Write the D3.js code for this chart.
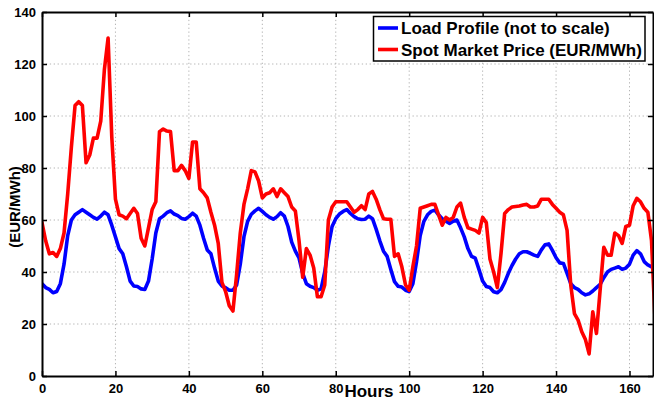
<!DOCTYPE html>
<html>
<head>
<meta charset="utf-8">
<script src="https://cdn.jsdelivr.net/npm/d3@7"></script>
<style>
  html, body { margin: 0; padding: 0; background: #fff; }
  svg { display: block; }
  text { font-family: "Liberation Sans", Arial, Helvetica, sans-serif; font-weight: bold; }
</style>
</head>
<body>
<svg id="chart" width="654" height="400"></svg>
<script>
// Hourly values over one week (hour 0 .. 167)
const spotPrice = [
  59, 52, 47, 47.5, 46, 49, 55, 70, 88, 104,
  105.5, 104, 82, 85, 91.5, 91.5, 98, 118, 130, 92,
  68, 62, 61.5, 60.5, 62.5, 64.5, 62.5, 53, 50, 57,
  64, 67, 94, 95, 94.2, 94, 79, 79, 81, 79,
  76, 90, 90, 72, 70.5, 68.5, 63, 58, 51, 36,
  32.5, 27, 25, 39, 55, 66, 72, 79, 78.5, 75,
  68.5, 70, 70.5, 72, 69, 72, 70.5, 69, 65, 63.5,
  52, 38, 49, 46.5, 41.5, 30.5, 30.5, 35, 60, 65,
  67, 67, 67, 67, 65, 63, 64, 65.5, 64, 70,
  71, 68, 64, 60.5, 60.3, 60.3, 46, 47, 42, 35,
  33, 42, 50, 64.5, 65, 65.5, 66, 66, 62, 58,
  61, 60, 61, 65, 66.5, 61, 57, 56.5, 56, 55,
  61, 59, 45, 40, 34, 47, 62.5, 64, 65, 65.2,
  65.4, 65.8, 66, 65, 65, 65.4, 68, 68, 68, 66,
  64.5, 63, 62, 56, 35, 24, 21.5, 17, 14, 8.5,
  24.7, 16.4, 33, 49.5, 46.5, 46.5, 55, 54, 51, 57.5,
  58, 65.5, 68.3, 67, 64.5, 63, 52, 20
];

const loadProfile = [
  35.5, 34, 33.3, 32, 32.5, 35.5, 43, 54, 60, 62,
  63, 64, 63, 62, 61, 60.3, 61.5, 63, 62, 58,
  53.5, 49, 47, 42, 36.5, 34.6, 34.4, 33.5, 33.3, 36.5,
  45, 55, 60.5, 61.5, 62.8, 63.5, 62.3, 61.7, 60.6, 60.3,
  61.3, 62.6, 61.5, 58, 53, 48.5, 47, 41.5, 36.5, 34.6,
  34, 33, 33, 35, 43, 53.6, 59.5, 62.2, 63.5, 64.5,
  63.3, 62, 61, 60.3, 61.3, 62.8, 61.5, 57.5, 51.5, 48,
  45.4, 39.5, 35.5, 34.5, 34, 33, 33.5, 40, 50, 57.5,
  60.5, 62.3, 63.3, 64, 62.5, 61.3, 60.5, 60.2, 60.3, 61.5,
  60.5, 56.5, 52, 48, 46, 41, 36.3, 34.5, 34.2, 33,
  32.5, 35.5, 44, 54, 59.5, 62, 63.3, 63.8, 62, 60.5,
  59.5, 58.7, 59.5, 60, 57, 53.5, 49, 46, 45.3, 41,
  36.5, 34.4, 34, 32.4, 32, 33.2, 36, 39.5, 42.5, 45,
  47, 47.8, 47.8, 47.2, 46.5, 46, 48.5, 50.5, 50.8, 48.3,
  45.5, 43.5, 43.3, 39.5, 35.5, 34, 33.3, 32, 31.2, 31.6,
  32.7, 34, 35.2, 37.8, 40, 41, 41.5, 42, 41, 41.5,
  43, 46.5, 48.2, 47, 44, 42.7, 42, 41.5
];

const xTicks = [0, 20, 40, 60, 80, 100, 120, 140, 160];
const yTicks = [0, 20, 40, 60, 80, 100, 120, 140];
const legendLabels = ["Load Profile (not to scale)", "Spot Market Price (EUR/MWh)"];
const seriesColors = ["#0000ff", "#ff0000"];

const svg = d3.select("#chart");
const plot = { left: 42, right: 653, top: 12, bottom: 376 };

const x = d3.scaleLinear().domain([0, 166.4]).range([plot.left, plot.right]);
const y = d3.scaleLinear().domain([0, 140]).range([plot.bottom, plot.top]);

// dotted grid
const grid = svg.append("g").attr("stroke", "#b4b4b4").attr("stroke-width", 1)
  .attr("stroke-dasharray", "1.3,2.6").attr("fill", "none");
xTicks.filter(d => d > 0).forEach(d => {
  grid.append("line").attr("x1", x(d)).attr("x2", x(d)).attr("y1", plot.top).attr("y2", plot.bottom);
});
yTicks.filter(d => d > 0 && d < 140).forEach(d => {
  grid.append("line").attr("x1", plot.left).attr("x2", plot.right).attr("y1", y(d)).attr("y2", y(d));
});

// clipped data lines
svg.append("defs").append("clipPath").attr("id", "plotClip")
  .append("rect").attr("x", plot.left).attr("y", plot.top)
  .attr("width", plot.right - plot.left).attr("height", plot.bottom - plot.top);

const line = d3.line().x((d, i) => x(i)).y(d => y(d));
const lines = svg.append("g").attr("clip-path", "url(#plotClip)");
[loadProfile, spotPrice].forEach((s, k) => {
  lines.append("path").datum(s).attr("d", line)
    .attr("fill", "none").attr("stroke", seriesColors[k])
    .attr("stroke-width", 3.6).attr("stroke-linejoin", "round").attr("stroke-linecap", "round");
});

// axes
const fontSize = "13px";
const xAxis = d3.axisBottom(x).tickValues(xTicks).tickSizeInner(-5).tickSizeOuter(0).tickPadding(8);
const gx = svg.append("g").attr("transform", `translate(0,${plot.bottom})`).call(xAxis);
gx.selectAll("text").attr("font-size", fontSize).attr("fill", "#000").attr("font-weight", "bold");

const xTop = d3.axisTop(x).tickValues(xTicks).tickSizeInner(-5).tickSizeOuter(0).tickFormat("");
svg.append("g").attr("transform", `translate(0,${plot.top})`).call(xTop);

const yAxis = d3.axisLeft(y).tickValues(yTicks).tickSizeInner(-5).tickSizeOuter(0).tickPadding(6);
const gy = svg.append("g").attr("transform", `translate(${plot.left},0)`).call(yAxis);
gy.selectAll("text").attr("font-size", fontSize).attr("fill", "#000").attr("font-weight", "bold");

const yRight = d3.axisRight(y).tickValues(yTicks).tickSizeInner(-5).tickSizeOuter(0).tickFormat("");
svg.append("g").attr("transform", `translate(${plot.right},0)`).call(yRight);

svg.selectAll(".domain").attr("stroke", "#000").attr("stroke-width", 2);
svg.selectAll(".tick line").attr("stroke", "#000").attr("stroke-width", 1.5);

// axis titles
svg.append("text").attr("x", 369).attr("y", 397).attr("text-anchor", "middle")
  .attr("font-size", "17px").attr("fill", "#000").text("Hours");
svg.append("text").attr("transform", "translate(20,207) rotate(-90)").attr("text-anchor", "middle")
  .attr("font-size", "15px").attr("fill", "#000").text("(EUR/MWh)");

// legend
const lg = svg.append("g");
lg.append("rect").attr("x", 373.5).attr("y", 16.5).attr("width", 271.5).attr("height", 44.5)
  .attr("fill", "#fff").attr("stroke", "#000").attr("stroke-width", 1.5);
legendLabels.forEach((lab, k) => {
  const cy = 28 + k * 21.5;
  lg.append("line").attr("x1", 378).attr("x2", 398).attr("y1", cy).attr("y2", cy)
    .attr("stroke", seriesColors[k]).attr("stroke-width", 3.6);
  lg.append("text").attr("x", 401).attr("y", cy + 6).attr("font-size", "17px")
    .attr("fill", "#000").text(lab);
});
</script>
</body>
</html>
